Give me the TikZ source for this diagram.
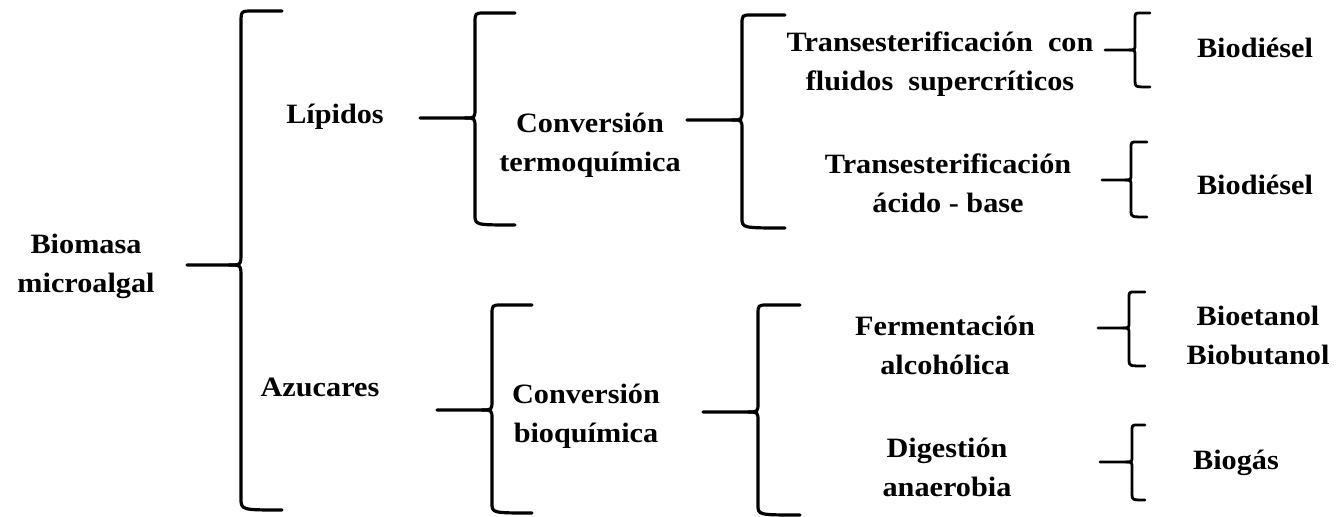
\documentclass[tikz,border=0pt]{standalone}
\usepackage{fontspec}
\setmainfont{Liberation Serif}[FakeStretch=1.08]
\begin{document}
\begin{tikzpicture}[x=0.5pt,y=-0.5pt,
  lbl/.style={font=\bfseries\fontsize{14}{19.5}\selectfont, align=center, inner sep=0pt},
  brace/.style={line width=1.6pt, line cap=round, line join=round},
  sbrace/.style={line width=1.4pt, line cap=round, line join=round}]
\useasboundingbox (0,0) rectangle (1337,517);
\fill[white] (0,0) rectangle (1337,517);
% brace macro: #1 style, #2 xl, #3 xv, #4 xe, #5 top, #6 tip, #7 bot, #8 r
\newcommand{\mybrace}[8]{%
  \draw[#1] (#4,#5) -- (#3+#8,#5) .. controls (#3,#5) .. (#3,#5+#8) -- (#3,#6-#8)
     .. controls (#3,#6) .. (#3-#8,#6) -- (#2,#6);
  \draw[#1] (#3-#8,#6) .. controls (#3,#6) .. (#3,#6+#8) -- (#3,#7-#8)
     .. controls (#3,#7) .. (#4,#7);}
% nodes
\node[lbl] (bio) at (86,266) {Biomasa\\microalgal};
\node[lbl] (lip) at (335,117) {Lípidos};
\node[lbl] (azu) at (320,387) {Azucares};
\node[lbl] (ctq) at (590,145) {Conversión\\termoquímica};
\node[lbl] (cbq) at (586,416) {Conversión\\bioquímica};
\node[lbl] (tsc) at (940,64) {Transesterificación \ con\\fluidos \ supercríticos};
\node[lbl] (tab) at (948,183) {Transesterificación\\ácido - base};
\node[lbl] (fer) at (945,345) {Fermentación\\alcohólica};
\node[lbl] (dig) at (947,467) {Digestión\\anaerobia};
\node[lbl] (bd1) at (1255,48) {Biodiésel};
\node[lbl] (bd2) at (1255,185) {Biodiésel};
\node[lbl] (bet) at (1258,335) {Bioetanol\\Biobutanol};
\node[lbl] (bgs) at (1236,463) {Biogás};
% braces
\mybrace{brace}{187}{241}{282}{11}{265}{510}{12}
\mybrace{brace}{420}{475}{515}{13}{118}{225}{10}
\mybrace{brace}{687}{742}{785}{15}{120}{228}{10}
\mybrace{sbrace}{1105}{1135}{1150}{13}{50}{87}{6}
\mybrace{sbrace}{1102}{1131}{1147}{142}{180}{217}{6}
\mybrace{brace}{437}{492}{532}{305}{410}{513}{10}
\mybrace{brace}{703}{758}{800}{305}{412}{515}{10}
\mybrace{sbrace}{1098}{1129}{1145}{292}{328}{366}{6}
\mybrace{sbrace}{1100}{1132}{1145}{425}{462}{500}{6}
\end{tikzpicture}
\end{document}
